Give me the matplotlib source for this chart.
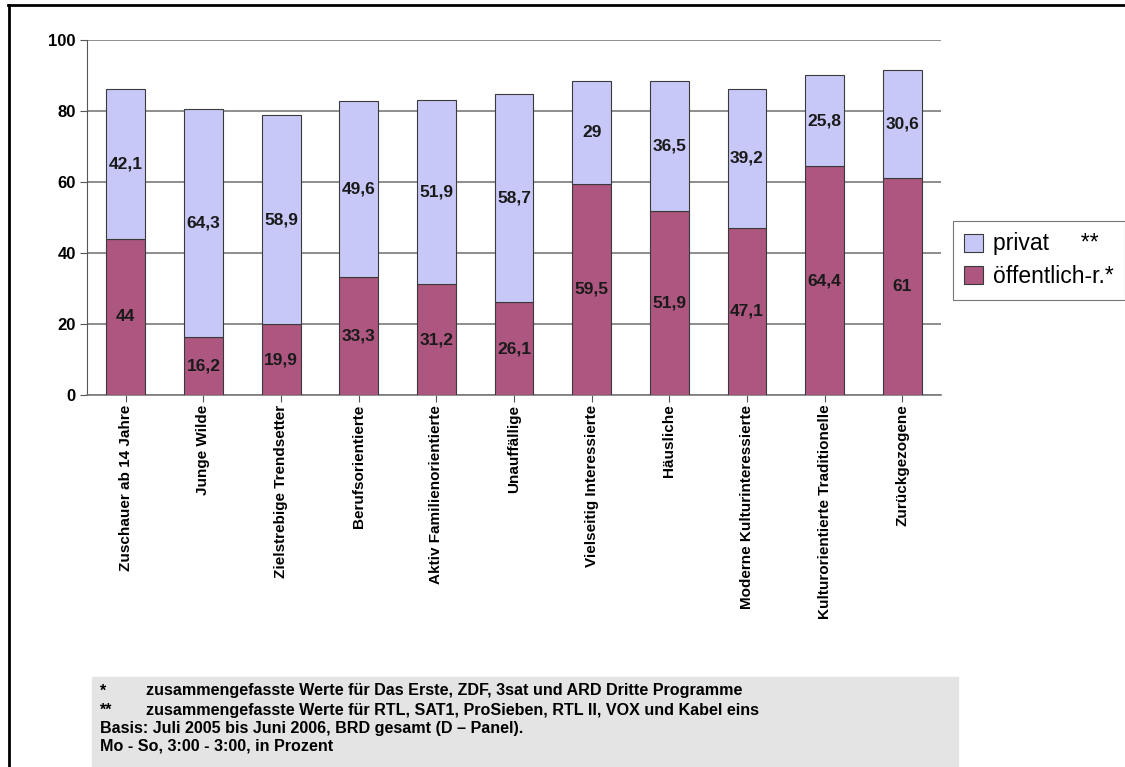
import matplotlib.pyplot as plt
import numpy as np
from matplotlib.lines import Line2D
from matplotlib.patches import Rectangle

plt.rcParams['font.family'] = ['Liberation Sans', 'DejaVu Sans']

kategorien = ['Zuschauer ab 14 Jahre', 'Junge Wilde', 'Zielstrebige Trendsetter',
              'Berufsorientierte', 'Aktiv Familienorientierte', 'Unauffällige',
              'Vielseitig Interessierte', 'Häusliche', 'Moderne Kulturinteressierte',
              'Kulturorientierte Traditionelle', 'Zurückgezogene']
oeffentlich = [44, 16.2, 19.9, 33.3, 31.2, 26.1, 59.5, 51.9, 47.1, 64.4, 61]
privat = [42.1, 64.3, 58.9, 49.6, 51.9, 58.7, 29, 36.5, 39.2, 25.8, 30.6]
y_ticks = [0, 20, 40, 60, 80, 100]
fussnoten = [
    ('*', 'zusammengefasste Werte für Das Erste, ZDF, 3sat und ARD Dritte Programme'),
    ('**', 'zusammengefasste Werte für RTL, SAT1, ProSieben, RTL II, VOX und Kabel eins'),
    ('Basis: Juli 2005 bis Juni 2006, BRD gesamt (D – Panel).', None),
    ('Mo - So, 3:00 - 3:00, in Prozent', None),
]

farbe_oe = '#ad5680'
farbe_pr = '#c8c8f8'

W, H = 1125, 767
fig = plt.figure(figsize=(W / 100, H / 100), dpi=100)

# Rahmen links und oben
fig.add_artist(Line2D([8.5 / W, 8.5 / W], [0, 1 - 5 / H], color='black', lw=2, transform=fig.transFigure))
fig.add_artist(Line2D([8 / W, 1], [1 - 5 / H, 1 - 5 / H], color='black', lw=2, transform=fig.transFigure))

ax = fig.add_axes([87 / W, 1 - 395 / H, (941 - 87) / W, (395 - 40) / H])
x = np.arange(len(kategorien))
b1 = ax.bar(x, oeffentlich, width=0.5, color=farbe_oe, edgecolor='#3a3a3a', lw=0.8,
            label='öffentlich-r.*', zorder=3)
b2 = ax.bar(x, privat, width=0.5, bottom=oeffentlich, color=farbe_pr, edgecolor='#3a3a3a',
            lw=0.8, label='privat     **', zorder=3)

for i in range(len(x)):
    ax.text(x[i], oeffentlich[i] / 2, str(oeffentlich[i]).replace('.', ','), ha='center',
            va='center', fontsize=12.5, fontweight='bold', color='#1a1a1a', zorder=4)
    ax.text(x[i], oeffentlich[i] + privat[i] / 2, str(privat[i]).replace('.', ','),
            ha='center', va='center', fontsize=12.5, fontweight='bold', color='#1a1a1a', zorder=4)

ax.set_xlim(-0.5, len(x) - 0.5)
ax.set_ylim(0, 100)
ax.set_yticks(y_ticks)
ax.set_yticklabels([str(t) for t in y_ticks], fontsize=12, fontweight='bold')
ax.set_xticks(x)
ax.set_xticklabels(kategorien, rotation=90, fontsize=11, fontweight='bold', va='top')
ax.tick_params(axis='y', length=5, color='#555555', pad=3)
ax.tick_params(axis='x', length=5, color='#555555', pad=2)
ax.yaxis.grid(True, color='#7a7a7a', lw=1.2, zorder=1)
for s in ['top', 'right']:
    ax.spines[s].set_visible(False)
ax.spines['left'].set_color('#555555')
ax.spines['bottom'].set_color('#7a7a7a')
ax.spines['bottom'].set_linewidth(1.2)

leg = fig.legend(handles=[b2, b1], loc='upper left', bbox_to_anchor=(953 / W, 1 - 221 / H),
                 frameon=True, fancybox=False, edgecolor='#555555', fontsize=16.5,
                 handlelength=0.83, handleheight=0.83, handletextpad=0.4, borderpad=0.5,
                 labelspacing=0.42, borderaxespad=0)
leg.get_frame().set_linewidth(0.8)

# Fußnotenkasten
fig.add_artist(Rectangle((92 / W, 0), (958 - 92) / W, (767 - 677) / H,
                         transform=fig.transFigure, color='#e4e4e4', zorder=0))
zeilen_y = [691, 710, 728, 746]
for (a, b), yy in zip(fussnoten, zeilen_y):
    fig.text(100 / W, 1 - yy / H, a, fontsize=11.6, fontweight='bold', va='center')
    if b:
        fig.text(146 / W, 1 - yy / H, b, fontsize=11.6, fontweight='bold', va='center')

fig.savefig('out.png', dpi=100)
